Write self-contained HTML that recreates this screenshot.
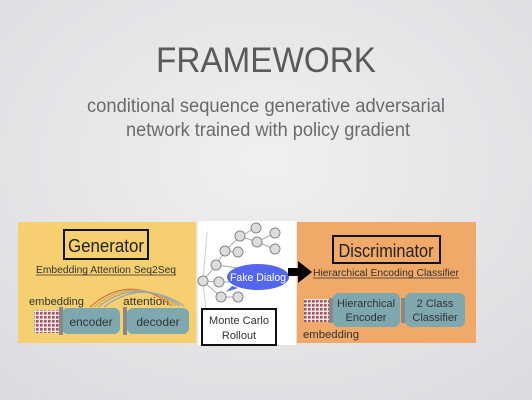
<!DOCTYPE html>
<html><head><meta charset="utf-8"><style>
html,body{margin:0;padding:0;}
body{width:532px;height:400px;overflow:hidden;background:#e8e8eb;}
svg{display:block;font-family:"Liberation Sans",sans-serif;}
</style></head><body>
<svg width="532" height="400" viewBox="0 0 532 400" xmlns="http://www.w3.org/2000/svg">
<defs>
<radialGradient id="bg" cx="50%" cy="40%" r="75%"><stop offset="0" stop-color="#f0f0f2"/><stop offset="1" stop-color="#dcdce0"/></radialGradient>
<pattern id="grid" width="4" height="4" patternUnits="userSpaceOnUse"><rect width="4" height="4" fill="#f0e6e6"/><rect width="2.6" height="2.6" fill="#a05560"/></pattern>
</defs>
<rect width="532" height="400" fill="url(#bg)"/>
<text x="266" y="72" text-anchor="middle" font-size="35" fill="#5a5a5a" textLength="220" lengthAdjust="spacingAndGlyphs">FRAMEWORK</text>
<text x="266" y="112" text-anchor="middle" font-size="19" fill="#6a6a6a" textLength="358" lengthAdjust="spacingAndGlyphs">conditional sequence generative adversarial</text>
<text x="268" y="136" text-anchor="middle" font-size="19" fill="#6a6a6a" textLength="284" lengthAdjust="spacingAndGlyphs">network trained with policy gradient</text>

<!-- Generator -->
<rect x="18" y="222" width="178" height="121" fill="#f5cf70"/>
<rect x="64" y="230" width="84" height="29" fill="none" stroke="#111" stroke-width="2"/>
<text x="106" y="252" text-anchor="middle" font-size="18" fill="#222" textLength="76" lengthAdjust="spacingAndGlyphs">Generator</text>
<text x="106" y="273" text-anchor="middle" font-size="10" fill="#333" textLength="140" lengthAdjust="spacingAndGlyphs">Embedding Attention Seq2Seq</text>
<line x1="36" y1="275" x2="176" y2="275" stroke="#333" stroke-width="0.8"/>
<text x="29" y="305" font-size="11" fill="#333" textLength="55" lengthAdjust="spacingAndGlyphs">embedding</text>
<text x="123" y="305" font-size="11" fill="#333" textLength="46" lengthAdjust="spacingAndGlyphs">attention</text>
<path d="M90 307 Q130 272 172 306" fill="none" stroke="#e07040" stroke-width="1.2"/>
<path d="M94 307 Q134 274 176 306" fill="none" stroke="#c8b060" stroke-width="1.2"/>
<path d="M98 307 Q138 276 180 306" fill="none" stroke="#a0a0a0" stroke-width="1.2"/>
<path d="M104 307 Q142 278 184 306" fill="none" stroke="#90a8b0" stroke-width="1.2"/>
<rect x="34" y="310" width="25" height="23" fill="url(#grid)"/>
<rect x="62" y="308" width="58" height="26" rx="6" fill="#7fa7ae"/>
<rect x="127" y="308" width="62" height="26" rx="6" fill="#7fa7ae"/>
<rect x="59" y="307" width="4" height="28" fill="#888"/>
<rect x="123" y="307" width="4" height="28" fill="#888"/>
<text x="91" y="326" text-anchor="middle" font-size="12" fill="#333">encoder</text>
<text x="158" y="326" text-anchor="middle" font-size="12" fill="#333">decoder</text>

<!-- Middle tree -->
<rect x="198" y="221" width="98" height="124" fill="#fff"/>
<g stroke="#aaa" stroke-width="1" fill="none">
<path d="M203 281 L216 265 L225 251 L240 236 L256 228 M240 236 L257 242 L275 233 M257 242 L275 249 M225 251 L238 252 M203 281 L219 282 L240 282 M203 281 L221 297 L238 297 M216 265 L238 268"/>
<path d="M203 281 L207 232 M203 281 L208 330" stroke="#ccc"/>
</g>
<g fill="#ddd" stroke="#888" stroke-width="1">
<circle cx="203" cy="281" r="5"/><circle cx="216" cy="265" r="5"/><circle cx="219" cy="282" r="5"/><circle cx="221" cy="297" r="5"/>
<circle cx="225" cy="251" r="5"/><circle cx="240" cy="236" r="5"/><circle cx="256" cy="228" r="5"/><circle cx="275" cy="233" r="5"/>
<circle cx="257" cy="242" r="5"/><circle cx="275" cy="249" r="5"/><circle cx="238" cy="252" r="5"/><circle cx="238" cy="297" r="5"/>
</g>
<path d="M232 286 L226 292 L238 288 Z" fill="#5566ee"/>
<ellipse cx="258" cy="277" rx="31" ry="13" fill="#5566ee"/>
<text x="258" y="281" text-anchor="middle" font-size="11" fill="#fff" textLength="56" lengthAdjust="spacingAndGlyphs">Fake Dialog</text>
<rect x="202" y="309" width="74" height="36" fill="#fff" stroke="#111" stroke-width="2"/>
<text x="239" y="324" text-anchor="middle" font-size="11" fill="#333">Monte Carlo</text>
<text x="239" y="339" text-anchor="middle" font-size="11" fill="#333">Rollout</text>

<!-- Discriminator -->
<rect x="297" y="222" width="179" height="121" fill="#f0a968"/>
<path d="M288 268 L298 268 L298 261 L312 272 L298 283 L298 276 L288 276 Z" fill="#000"/>
<rect x="333" y="236" width="107" height="27" fill="none" stroke="#111" stroke-width="2"/>
<text x="386" y="257" text-anchor="middle" font-size="18" fill="#222" textLength="95" lengthAdjust="spacingAndGlyphs">Discriminator</text>
<text x="386" y="276" text-anchor="middle" font-size="10" fill="#333" textLength="146" lengthAdjust="spacingAndGlyphs">Hierarchical Encoding Classifier</text>
<line x1="313" y1="278" x2="459" y2="278" stroke="#333" stroke-width="0.8"/>
<rect x="304" y="299" width="25" height="23" fill="url(#grid)"/>
<rect x="333" y="293" width="67" height="34" rx="6" fill="#7fa7ae"/>
<rect x="405" y="293" width="60" height="34" rx="6" fill="#7fa7ae"/>
<rect x="329" y="298" width="4" height="25" fill="#888"/>
<rect x="401" y="298" width="4" height="25" fill="#888"/>
<text x="366" y="307" text-anchor="middle" font-size="11" fill="#333">Hierarchical</text>
<text x="366" y="321" text-anchor="middle" font-size="11" fill="#333">Encoder</text>
<text x="435" y="307" text-anchor="middle" font-size="11" fill="#333">2 Class</text>
<text x="435" y="321" text-anchor="middle" font-size="11" fill="#333">Classifier</text>
<text x="303" y="338" font-size="11" fill="#333" textLength="56" lengthAdjust="spacingAndGlyphs">embedding</text>
</svg>
</body></html>
